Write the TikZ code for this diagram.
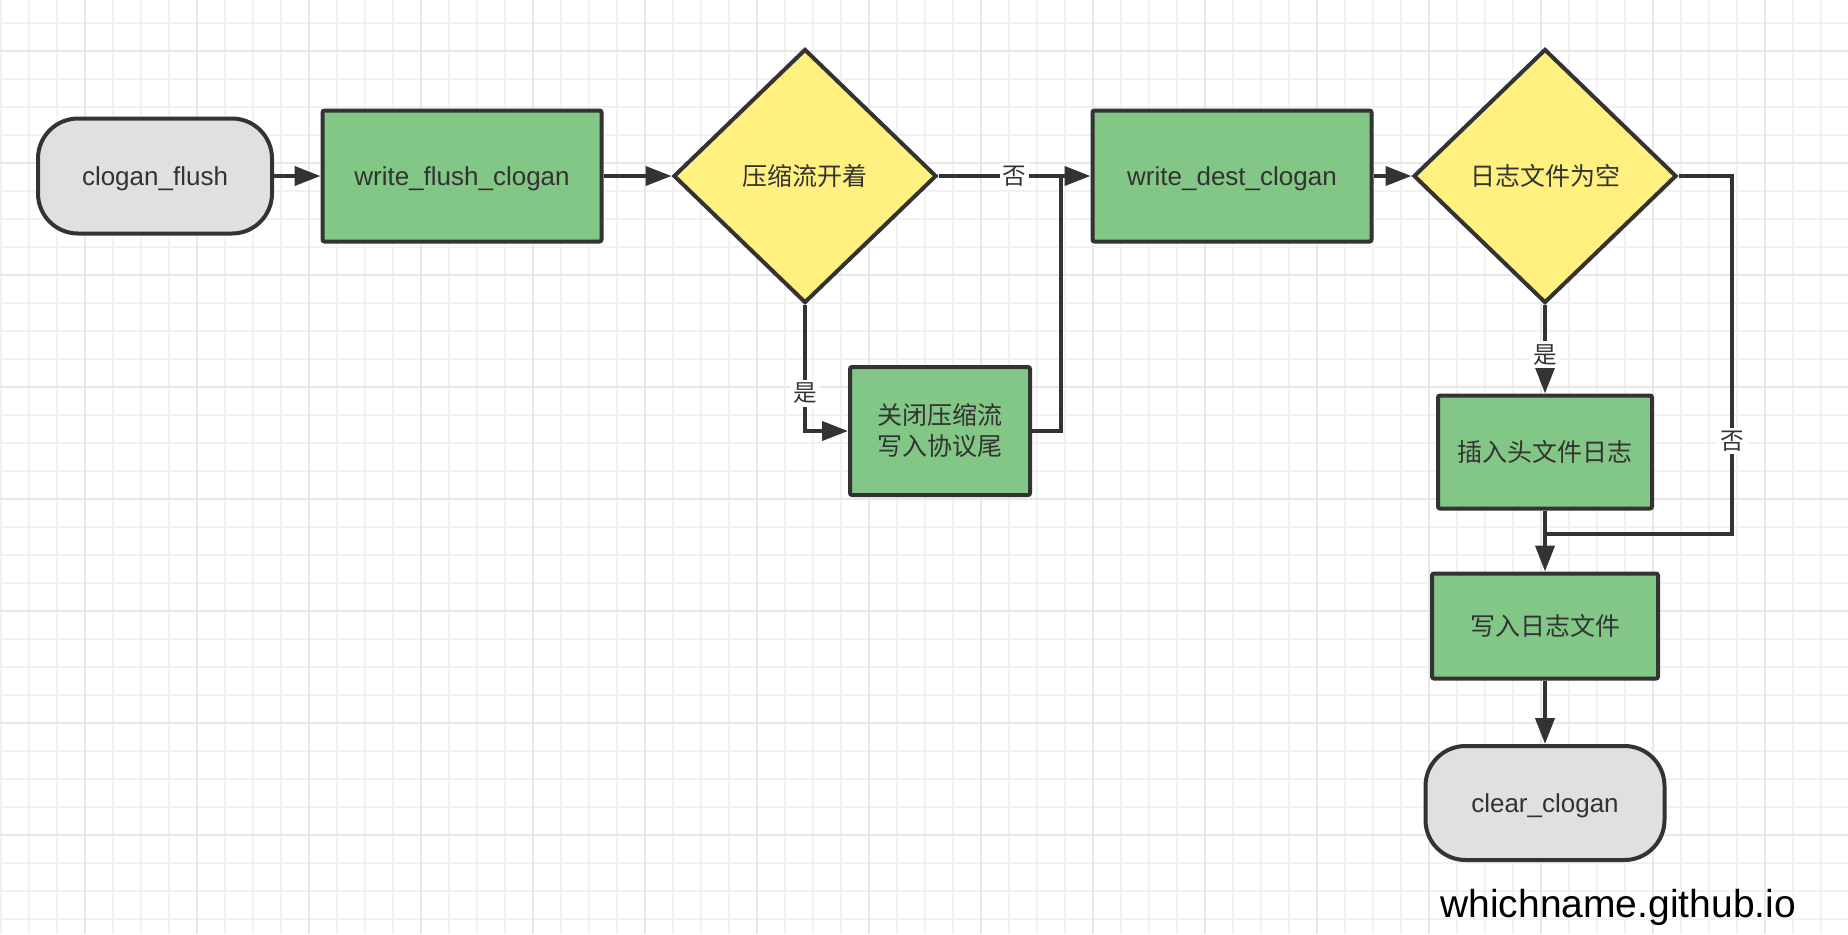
\documentclass[tikz,border=0pt]{standalone}
\usepackage{fontspec}
\setmainfont{Liberation Sans}
\newfontfamily\cjk{Noto Sans CJK SC}
\usetikzlibrary{shapes.geometric,arrows.meta}
\definecolor{ink}{HTML}{333333}
\definecolor{procgreen}{HTML}{82C785}
\definecolor{askyellow}{HTML}{FFF07F}
\definecolor{termgray}{HTML}{E0E0E0}
\definecolor{gridminor}{HTML}{F2F2F2}
\definecolor{gridmajor}{HTML}{E8E8E8}
\tikzset{
  base/.style={draw=ink,line width=2pt,text=ink,align=center,inner sep=0pt,%
    font=\fontsize{13}{15.5}\selectfont,text depth=0pt},
  zh/.style={font=\cjk\fontsize{12.5}{15.5}\selectfont,text depth=},
  term/.style={base,fill=termgray,rounded corners=20pt},
  proc/.style={base,fill=procgreen,rounded corners=1pt},
  ask/.style={base,zh,fill=askyellow,shape=diamond,aspect=1,%
    minimum width=131.5pt,minimum height=127pt},
  flow/.style={draw=ink,line width=2pt,-{Triangle[length=13pt,width=9.5pt]}},
  link/.style={draw=ink,line width=2pt},
  yesno/.style={fill=white,text=ink,inner sep=1.5pt,font=\cjk\fontsize{11.8}{13}\selectfont},
}

\begin{document}
\begin{tikzpicture}[x=0.5pt,y=-0.5pt]
      \useasboundingbox (0,0) rectangle (1848,934) ;
      \fill[white] (0,0) rectangle (1848,934) ;
      % background grid
      \foreach \k in {0,...,65} \draw[gridminor,line width=0.6pt] (1+28*\k,0) -- ++(0,934) ;
      \foreach \k in {1,...,33} \draw[gridminor,line width=0.6pt] (0,-5+28*\k) -- ++(1848,0) ;
      \foreach \k in {0,...,15} \draw[gridmajor,line width=0.9pt] (85+112*\k,0) -- ++(0,934) ;
      \foreach \k in {0,...,7} \draw[gridmajor,line width=0.9pt] (0,51+112*\k) -- ++(1848,0) ;
      % top row
      \node[term,minimum width=117pt,minimum height=57.5pt] (flush) at (155,176) {clogan\_flush} ;
      \node[proc,minimum width=139.5pt,minimum height=65.5pt] (wflush) at (462,176) %
      {write\_flush\_clogan} ;
      \node[ask] (zipon) at (805,176) {压缩流开着} ;
      \node[proc,minimum width=139.5pt,minimum height=65.5pt] (wdest) at (1232,176) %
      {write\_dest\_clogan} ;
      \node[ask] (empty) at (1545,176) {日志文件为空} ;
      % branches
      \node[proc,zh,minimum width=90pt,minimum height=64pt] (closez) at (940,431) %
      {关闭压缩流\\写入协议尾} ;
      \node[proc,zh,minimum width=107pt,minimum height=56.5pt] (head) at (1545,452) {插入头文件日志} ;
      \node[proc,zh,minimum width=113pt,minimum height=52.5pt] (wlog) at (1545,626) {写入日志文件} ;
      \node[term,minimum width=119.5pt,minimum height=57pt] (clear) at (1545,803) {clear\_clogan} ;
      \coordinate (zipjoin) at (1061,176) ;
      \coordinate (noturn) at (1732,534) ;
      \coordinate (nojoin) at (1545,534) ;
      % connectors
      \draw[flow] (flush) -- (wflush) ;
      \draw[flow] (wflush) -- (zipon) ;
      \draw[flow] (zipon) -- node[yesno]{否} (wdest) ;
      \draw[flow] (zipon.south) |- node[yesno,pos=0.35]{是} (closez) ;
      \draw[link] (closez) -| (zipjoin) ;
      \draw[flow] (wdest) -- (empty) ;
      \draw[flow] (empty) -- node[yesno,pos=0.56]{是} (head) ;
      \draw[link] (empty.east) -| node[yesno,pos=0.87]{否} (noturn) -- (nojoin) ;
      \draw[flow] (head) -- (wlog) ;
      \draw[flow] (wlog) -- (clear) ;
      \node[anchor=base west,inner sep=0pt,font=\fontsize{19.5}{23}\selectfont] %
      (site) at (1440,917) {whichname.github.io} ;
    \end{tikzpicture}
\end{document}
